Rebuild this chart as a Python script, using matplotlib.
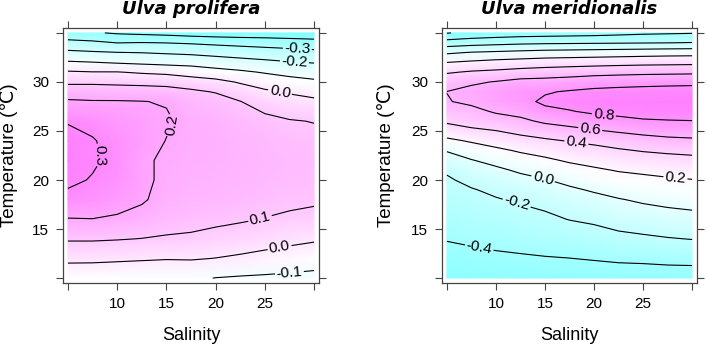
import numpy as np
import matplotlib
matplotlib.use("Agg")
import matplotlib.pyplot as plt
from matplotlib.colors import LinearSegmentedColormap

plt.rcParams['font.family'] = ['Liberation Sans', 'DejaVu Sans']
plt.rcParams['contour.negative_linestyle'] = 'solid'

# === Grid ===
salinity = [5, 7.5, 10, 12.5, 15, 17.5, 20, 22.5, 25, 27.5, 30]
temp_prolifera = [10, 12, 14, 16, 18, 20, 22, 24, 26, 28, 29, 30, 31, 32, 33, 34, 35]
temp_meridionalis = [10, 12, 14, 16, 18, 19, 20, 21, 22, 23, 24, 25, 26, 27, 28, 29,
                     30, 31, 32, 33, 34, 35]

# one row per salinity value, values along temperature (bottom -> top)
prolifera = [
    [-0.065, 0.02, 0.11, 0.195, 0.28, 0.315, 0.33, 0.325, 0.295, 0.21, 0.16, 0.08, 0.01, -0.09, -0.18, -0.27, -0.37],
    [-0.07, 0.02, 0.11, 0.198, 0.27, 0.295, 0.31, 0.305, 0.28, 0.205, 0.16, 0.08, 0.003, -0.098, -0.19, -0.28, -0.39],
    [-0.075, 0.015, 0.105, 0.185, 0.245, 0.27, 0.28, 0.275, 0.255, 0.205, 0.155, 0.075, 0.003, -0.11, -0.198, -0.302, -0.41],
    [-0.08, 0.01, 0.098, 0.17, 0.21, 0.22, 0.215, 0.235, 0.225, 0.202, 0.15, 0.07, -0.01, -0.12, -0.202, -0.298, -0.42],
    [-0.085, 0.005, 0.09, 0.14, 0.17, 0.18, 0.185, 0.198, 0.21, 0.195, 0.14, 0.065, -0.02, -0.13, -0.21, -0.302, -0.43],
    [-0.085, 0.007, 0.085, 0.13, 0.155, 0.168, 0.175, 0.178, 0.175, 0.155, 0.115, 0.055, -0.05, -0.13, -0.22, -0.31, -0.445],
    [-0.102, -0.002, 0.07, 0.12, 0.15, 0.163, 0.17, 0.172, 0.165, 0.135, 0.095, 0.03, -0.07, -0.145, -0.235, -0.32, -0.455],
    [-0.11, -0.015, 0.055, 0.11, 0.14, 0.155, 0.16, 0.158, 0.145, 0.102, 0.055, -0.01, -0.085, -0.165, -0.245, -0.33, -0.46],
    [-0.115, -0.03, 0.04, 0.097, 0.13, 0.145, 0.15, 0.145, 0.125, 0.06, 0.015, -0.045, -0.107, -0.18, -0.255, -0.34, -0.46],
    [-0.12, -0.045, 0.025, 0.085, 0.12, 0.135, 0.14, 0.133, 0.106, 0.035, -0.01, -0.07, -0.125, -0.195, -0.265, -0.35, -0.465],
    [-0.125, -0.06, 0.012, 0.075, 0.113, 0.128, 0.132, 0.125, 0.097, 0.018, -0.03, -0.085, -0.14, -0.205, -0.275, -0.36, -0.47],
]

meridionalis = [
    [-0.52, -0.47, -0.39, -0.34, -0.28, -0.25, -0.22, -0.18, -0.08, 0.01, 0.16, 0.3, 0.43, 0.52, 0.59, 0.602, 0.53, 0.38, 0.198, -0.03, -0.31, -0.61],
    [-0.51, -0.45, -0.37, -0.31, -0.245, -0.21, -0.16, -0.09, -0.01, 0.1, 0.22, 0.36, 0.48, 0.55, 0.635, 0.655, 0.57, 0.42, 0.23, 0.01, -0.28, -0.55],
    [-0.5, -0.43, -0.355, -0.29, -0.21, -0.17, -0.11, -0.04, 0.06, 0.16, 0.28, 0.395, 0.52, 0.62, 0.7, 0.715, 0.61, 0.44, 0.26, 0.03, -0.26, -0.52],
    [-0.5, -0.42, -0.34, -0.265, -0.18, -0.13, -0.06, 0.03, 0.12, 0.22, 0.33, 0.45, 0.56, 0.66, 0.75, 0.77, 0.66, 0.47, 0.28, 0.05, -0.24, -0.5],
    [-0.5, -0.41, -0.32, -0.235, -0.15, -0.09, -0.01, 0.08, 0.17, 0.26, 0.37, 0.5, 0.63, 0.76, 0.83, 0.785, 0.67, 0.49, 0.3, 0.07, -0.23, -0.49],
    [-0.495, -0.402, -0.305, -0.195, -0.11, -0.03, 0.05, 0.135, 0.22, 0.315, 0.41, 0.54, 0.67, 0.79, 0.86, 0.815, 0.69, 0.51, 0.31, 0.08, -0.225, -0.48],
    [-0.49, -0.39, -0.28, -0.17, -0.055, 0.02, 0.1, 0.175, 0.255, 0.345, 0.44, 0.58, 0.72, 0.83, 0.88, 0.84, 0.72, 0.53, 0.32, 0.09, -0.22, -0.47],
    [-0.49, -0.375, -0.25, -0.125, -0.01, 0.065, 0.14, 0.21, 0.29, 0.38, 0.48, 0.62, 0.75, 0.85, 0.895, 0.855, 0.73, 0.545, 0.33, 0.1, -0.215, -0.45],
    [-0.485, -0.37, -0.23, -0.1, 0.025, 0.1, 0.16, 0.23, 0.315, 0.41, 0.52, 0.655, 0.78, 0.87, 0.905, 0.865, 0.74, 0.555, 0.34, 0.11, -0.21, -0.43],
    [-0.48, -0.36, -0.21, -0.075, 0.05, 0.12, 0.18, 0.25, 0.335, 0.43, 0.55, 0.68, 0.79, 0.875, 0.91, 0.87, 0.75, 0.56, 0.345, 0.12, -0.205, -0.42],
    [-0.48, -0.355, -0.195, -0.06, 0.07, 0.135, 0.195, 0.265, 0.35, 0.445, 0.565, 0.69, 0.795, 0.88, 0.915, 0.875, 0.755, 0.565, 0.35, 0.125, -0.195, -0.41],
]

levels_prolifera = [-0.4, -0.3, -0.2, -0.1, 0.0, 0.1, 0.2, 0.3]
levels_meridionalis = [-0.6, -0.4, -0.2, 0.0, 0.2, 0.4, 0.6, 0.8]

# where the contour labels sit (salinity, temperature)
spots_prolifera = [(28.3, 33.4), (28.0, 32.0), (26.5, 28.8), (15.6, 25.6), (8.2, 22.5),
                   (24.5, 16.1), (26.5, 13.1), (27.5, 10.5)]
spots_meridionalis = [(21.0, 26.6), (19.6, 25.1), (18.2, 23.8), (28.3, 20.2), (14.8, 20.1),
                      (12.1, 17.6), (8.3, 13.1)]

cmap = LinearSegmentedColormap.from_list("cm", ["#80FFFF", "#FFFFFF", "#FF80FF"])
frame = "#444444"


def draw_panel(ax, temps, z, levels, spots):
    S, T = np.meshgrid(salinity, temps)
    Z = np.array(z).T
    ax.pcolormesh(S, T, Z, shading='gouraud', cmap=cmap, vmin=Z.min(), vmax=Z.max())
    cs = ax.contour(S, T, Z, levels=levels, colors='black', linewidths=0.8,
                    linestyles='solid')
    ax.clabel(cs, fmt='%.1f', fontsize=11, manual=spots, inline=True, inline_spacing=2)

    ax.set_xlim(4.5, 30.5)
    ax.set_ylim(9.5, 35.5)
    ax.set_xticks([5, 10, 15, 20, 25, 30])
    ax.set_xticklabels(['', '10', '15', '20', '25', ''])
    ax.set_yticks([10, 15, 20, 25, 30, 35])
    ax.set_yticklabels(['', '15', '20', '25', '30', ''])
    ax.tick_params(direction='out', length=5, width=0.8, color=frame, top=True, right=True,
                   labelsize=11, pad=5)
    for sp in ax.spines.values():
        sp.set_color(frame)
        sp.set_linewidth(0.9)


fig = plt.figure(figsize=(7.07, 3.45), dpi=100)
W, H = 707, 345
ax1 = fig.add_axes([63 / W, 62 / H, 256 / W, 255 / H])
ax2 = fig.add_axes([442 / W, 62 / H, 255 / W, 255 / H])

draw_panel(ax1, temp_prolifera, prolifera, levels_prolifera, spots_prolifera)
draw_panel(ax2, temp_meridionalis, meridionalis, levels_meridionalis, spots_meridionalis)

for cx, name in [(191, "Ulva prolifera"), (569.5, "Ulva meridionalis")]:
    fig.text(cx / W, 1 - 9 / H, name, ha='center', va='center', fontsize=13,
             family='DejaVu Sans', weight='bold', style='italic')
    fig.text(cx / W, 1 - 335 / H, "Salinity", ha='center', va='center', fontsize=13)

for lx in [9, 386]:
    fig.text(lx / W, 1 - 155.5 / H, "Temperature (℃)", ha='center', va='center',
             rotation=90, fontsize=13.5)

fig.savefig("out.png", dpi=100)
